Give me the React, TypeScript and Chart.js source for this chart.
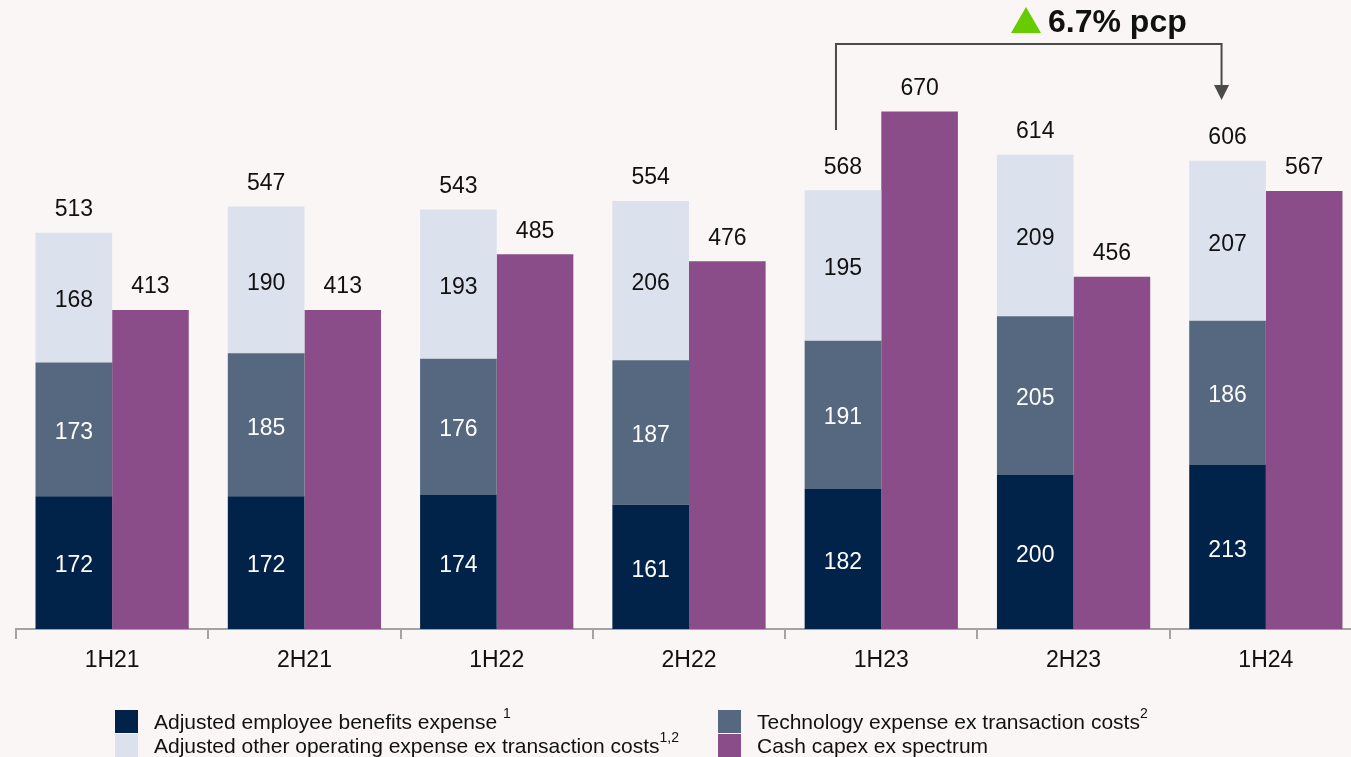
import React, { useEffect, useRef } from "react";
import { Chart, registerables } from "chart.js";

Chart.register(...registerables);

const categories = ["1H21", "2H21", "1H22", "2H22", "1H23", "2H23", "1H24"];
const employee = [172, 172, 174, 161, 182, 200, 213];
const technology = [173, 185, 176, 187, 191, 205, 186];
const otherOpex = [168, 190, 193, 206, 195, 209, 207];
const capex = [413, 413, 485, 476, 670, 456, 567];
const stackTotals = [513, 547, 543, 554, 568, 614, 606];
const changeLabel = "6.7% pcp";

const C_EMP = "#01234a";
const C_TECH = "#55687f";
const C_OTHER = "#dbe1ed";
const C_CAPEX = "#8b4d89";
const BG = "#f9f6f5";
const FONT = '"Liberation Sans", Arial, sans-serif';

const labelPlugin = {
  id: "labels",
  afterDatasetsDraw(chart: any) {
    const ctx = chart.ctx;
    ctx.save();
    ctx.font = `23px ${FONT}`;
    ctx.textAlign = "center";
    ctx.textBaseline = "middle";
    const inner = [
      { ds: 0, values: employee, color: "#ffffff" },
      { ds: 1, values: technology, color: "#ffffff" },
      { ds: 2, values: otherOpex, color: "#111111" },
    ];
    inner.forEach(({ ds, values, color }) => {
      const meta = chart.getDatasetMeta(ds);
      meta.data.forEach((el: any, i: number) => {
        const mid = (el.y + el.base) / 2;
        ctx.fillStyle = color;
        ctx.fillText(String(values[i]), el.x, mid + 3.5);
      });
    });
    ctx.fillStyle = "#111111";
    const topMeta = chart.getDatasetMeta(2);
    topMeta.data.forEach((el: any, i: number) => {
      ctx.fillText(String(stackTotals[i]), el.x, el.y - 23);
    });
    const capMeta = chart.getDatasetMeta(3);
    capMeta.data.forEach((el: any, i: number) => {
      ctx.fillText(String(capex[i]), el.x, el.y - 23);
    });

    // bracket annotation 1H23 -> 1H24
    const x0 = topMeta.data[4].x - 7;
    const x1 = topMeta.data[6].x - 6;
    ctx.strokeStyle = "#4a4a4a";
    ctx.lineWidth = 2;
    ctx.beginPath();
    ctx.moveTo(x0, 130);
    ctx.lineTo(x0, 44);
    ctx.lineTo(x1, 44);
    ctx.lineTo(x1, 88);
    ctx.stroke();
    ctx.fillStyle = "#4a4a4a";
    ctx.beginPath();
    ctx.moveTo(x1 - 7.5, 85);
    ctx.lineTo(x1 + 7.5, 85);
    ctx.lineTo(x1, 100);
    ctx.closePath();
    ctx.fill();

    // green triangle + text
    ctx.fillStyle = "#66cc00";
    ctx.beginPath();
    ctx.moveTo(1011, 33);
    ctx.lineTo(1041, 33);
    ctx.lineTo(1026, 7);
    ctx.closePath();
    ctx.fill();
    ctx.fillStyle = "#111111";
    ctx.font = `bold 32px ${FONT}`;
    ctx.textAlign = "left";
    ctx.textBaseline = "alphabetic";
    ctx.fillText(changeLabel, 1048, 32);
    ctx.restore();
  },
};

const bgPlugin = {
  id: "bg",
  beforeDraw(chart: any) {
    const ctx = chart.ctx;
    ctx.save();
    ctx.fillStyle = BG;
    ctx.fillRect(0, 0, chart.width, chart.height);
    ctx.restore();
  },
};

export default function App() {
  const ref = useRef<HTMLCanvasElement>(null);
  useEffect(() => {
    document.body.style.margin = "0";
    document.body.style.background = BG;
    const common = {
      borderWidth: 0,
      barPercentage: 1,
      categoryPercentage: 0.797,
    };
    const chart = new Chart(ref.current!, {
      type: "bar",
      data: {
        labels: categories,
        datasets: [
          { label: "Adjusted employee benefits expense", data: employee, backgroundColor: C_EMP, stack: "a", ...common },
          { label: "Technology expense ex transaction costs", data: technology, backgroundColor: C_TECH, stack: "a", ...common },
          { label: "Adjusted other operating expense ex transaction costs", data: otherOpex, backgroundColor: C_OTHER, stack: "a", ...common },
          { label: "Cash capex ex spectrum", data: capex, backgroundColor: C_CAPEX, stack: "b", ...common },
        ],
      },
      options: {
        animation: false,
        responsive: false,
        devicePixelRatio: 1,
        layout: { padding: { left: 16, right: 0, top: 11, bottom: 0 } },
        plugins: { legend: { display: false }, tooltip: { enabled: false } },
        scales: {
          x: {
            stacked: true,
            grid: {
              offset: true,
              drawOnChartArea: false,
              drawTicks: true,
              tickLength: 10,
              color: "#a3a3a3",
              lineWidth: 2,
            },
            border: { display: true, color: "#a3a3a3", width: 2 },
            ticks: {
              color: "#111111",
              font: { family: FONT, size: 23 },
              padding: 8,
            },
            afterFit: (scale: any) => {
              scale.height = 128;
            },
          },
          y: { stacked: true, display: false, min: 0, max: 800 },
        },
      },
      plugins: [bgPlugin, labelPlugin],
    });
    return () => chart.destroy();
  }, []);

  const txt: React.CSSProperties = {
    position: "absolute",
    fontFamily: FONT,
    fontSize: 21,
    lineHeight: "24px",
    color: "#111111",
    whiteSpace: "nowrap",
  };
  const sup: React.CSSProperties = { fontSize: 14, verticalAlign: "top", lineHeight: "14px", position: "relative", top: -4 };
  const sq = (left: number, top: number, color: string): React.CSSProperties => ({
    position: "absolute",
    left,
    top,
    width: 23,
    height: 23,
    background: color,
  });

  return (
    <div style={{ position: "fixed", left: 0, top: 0, width: 1351, height: 757, overflow: "hidden", background: BG }}>
      <canvas ref={ref} width={1362} height={757} style={{ position: "absolute", left: 0, top: 0, width: 1362, height: 757 }} />
      <div style={sq(115, 710, C_EMP)} />
      <div style={sq(115, 734, C_OTHER)} />
      <div style={sq(718, 710, C_TECH)} />
      <div style={sq(718, 734, C_CAPEX)} />
      <div style={{ ...txt, left: 154, top: 710 }}>
        Adjusted employee benefits expense <span style={sup}>1</span>
      </div>
      <div style={{ ...txt, left: 154, top: 734 }}>
        Adjusted other operating expense ex transaction costs<span style={sup}>1,2</span>
      </div>
      <div style={{ ...txt, left: 757, top: 710 }}>
        Technology expense ex transaction costs<span style={sup}>2</span>
      </div>
      <div style={{ ...txt, left: 757, top: 734 }}>
        Cash capex ex spectrum
      </div>
    </div>
  );
}
